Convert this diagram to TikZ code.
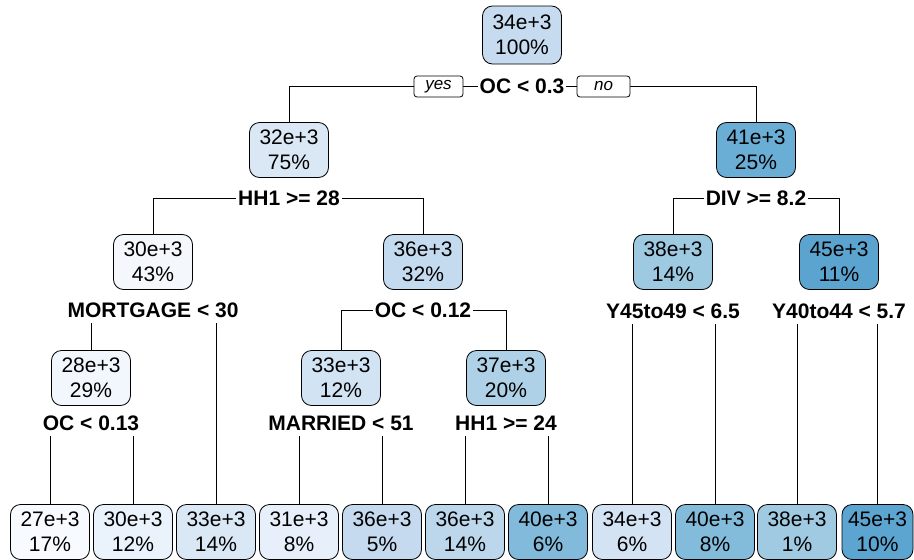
\documentclass[tikz,border=0pt]{standalone}
\usepackage{fontspec}
\setmainfont{Liberation Sans}
\usetikzlibrary{backgrounds}
\definecolor{cA}{HTML}{C6DBEF}
\definecolor{cB}{HTML}{DAE8F5}
\definecolor{cC}{HTML}{6AAED6}
\definecolor{cD}{HTML}{F4F8FD}
\definecolor{cE}{HTML}{C4DAEE}
\definecolor{cF}{HTML}{9DC9E1}
\definecolor{cG}{HTML}{5CA4D0}
\definecolor{cH}{HTML}{F2F7FD}
\definecolor{cI}{HTML}{D2E3F3}
\definecolor{cJ}{HTML}{AFD1E7}
\definecolor{l1c}{HTML}{F7FBFF}
\definecolor{l2c}{HTML}{EAF2FB}
\definecolor{l3c}{HTML}{DAE8F5}
\definecolor{l4c}{HTML}{E7F0FA}
\definecolor{l5c}{HTML}{C5DAEE}
\definecolor{l6c}{HTML}{BCD7EB}
\definecolor{l7c}{HTML}{81BADA}
\definecolor{l8c}{HTML}{D3E3F3}
\definecolor{l9c}{HTML}{83BBDB}
\definecolor{l10c}{HTML}{A0CAE1}
\definecolor{l11c}{HTML}{5DA5D1}
\begin{document}
\begin{tikzpicture}[x=1pt,y=-1pt,
  tnode/.style={draw, line width=0.8pt, rounded corners=10pt, minimum width=79pt, minimum height=55pt, inner sep=0pt, align=center, font=\fontsize{21}{25}\selectfont},
  split/.style={fill=white, inner xsep=2pt, inner ysep=0pt, minimum height=26pt, font=\fontsize{21}{25}\selectfont\bfseries},
  yn/.style={draw, line width=0.8pt, fill=white, rounded corners=3pt, minimum height=21pt, inner sep=0pt, font=\fontsize{17}{20}\selectfont\itshape},
  edge/.style={line width=0.8pt}]
\useasboundingbox (0,0) rectangle (914,560);
% internal nodes
\node[tnode, fill=cA, minimum height=58pt] (root) at (522,35) {34e+3\\100\%};
\node[split] (s0) at (522,86) {OC < 0.3};
\node[yn, minimum width=49pt] (yes) at (438.5,86.5) {yes};
\node[yn, minimum width=53pt] (no) at (603.5,86.5) {no};
\node[tnode, fill=cB] (n2) at (289,150) {32e+3\\75\%};
\node[tnode, fill=cC] (n3) at (756,150) {41e+3\\25\%};
\node[split] (s2) at (289,198) {HH1 >= 28};
\node[split] (s3) at (756,198) {DIV >= 8.2};
\node[tnode, fill=cD] (n4) at (153,262) {30e+3\\43\%};
\node[tnode, fill=cE] (n5) at (423,262) {36e+3\\32\%};
\node[tnode, fill=cF] (n6) at (673,262) {38e+3\\14\%};
\node[tnode, fill=cG] (n7) at (839,262) {45e+3\\11\%};
\node[split] (s4) at (153,310) {MORTGAGE < 30};
\node[split] (s5) at (423,310) {OC < 0.12};
\node[split] (s6) at (673,311) {Y45to49 < 6.5};
\node[split] (s7) at (839,311) {Y40to44 < 5.7};
\node[tnode, fill=cH] (n8) at (91,378) {28e+3\\29\%};
\node[tnode, fill=cI] (n10) at (341,378) {33e+3\\12\%};
\node[tnode, fill=cJ] (n11) at (506,378) {37e+3\\20\%};
\node[split] (s8) at (91,423) {OC < 0.13};
\node[split] (s10) at (341,423) {MARRIED < 51};
\node[split] (s11) at (506,423) {HH1 >= 24};
% leaves
\node[tnode, fill=l1c] (l1) at (50,532) {27e+3\\17\%};
\node[tnode, fill=l2c] (l2) at (133,532) {30e+3\\12\%};
\node[tnode, fill=l3c] (l3) at (216,532) {33e+3\\14\%};
\node[tnode, fill=l4c] (l4) at (299,532) {31e+3\\8\%};
\node[tnode, fill=l5c] (l5) at (382,532) {36e+3\\5\%};
\node[tnode, fill=l6c] (l6) at (465,532) {36e+3\\14\%};
\node[tnode, fill=l7c] (l7) at (548,532) {40e+3\\6\%};
\node[tnode, fill=l8c] (l8) at (632,532) {34e+3\\6\%};
\node[tnode, fill=l9c] (l9) at (715,532) {40e+3\\8\%};
\node[tnode, fill=l10c] (l10) at (797,532) {38e+3\\1\%};
\node[tnode, fill=l11c, minimum width=71pt] (l11) at (877.5,532) {45e+3\\10\%};
\begin{scope}[on background layer]
\fill[white] (0,0) rectangle (914,560);
\draw[edge] (s0.center) -| (n2.north);
\draw[edge] (s0.center) -| (n3.north);
\draw[edge] (s2.center) -| (n4.north);
\draw[edge] (s2.center) -| (n5.north);
\draw[edge] (s3.center) -| (n6.north);
\draw[edge] (s3.center) -| (n7.north);
\draw[edge] (s4.center) -| (n8.north);
\draw[edge] (s4.center) -| (l3.north);
\draw[edge] (s5.center) -| (n10.north);
\draw[edge] (s5.center) -| (n11.north);
\draw[edge] (s6.center) -| (l8.north);
\draw[edge] (s6.center) -| (l9.north);
\draw[edge] (s7.center) -| (l10.north);
\draw[edge] (s7.center) -| (l11.north);
\draw[edge] (s8.center) -| (l1.north);
\draw[edge] (s8.center) -| (l2.north);
\draw[edge] (s10.center) -| (l4.north);
\draw[edge] (s10.center) -| (l5.north);
\draw[edge] (s11.center) -| (l6.north);
\draw[edge] (s11.center) -| (l7.north);
\end{scope}
\end{tikzpicture}
\end{document}
